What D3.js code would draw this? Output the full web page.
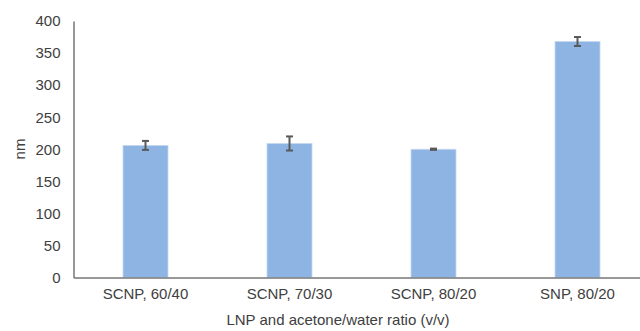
<!DOCTYPE html>
<html>
<head>
<meta charset="utf-8">
<script src="https://cdn.jsdelivr.net/npm/d3@7"></script>
<style>
  html, body { margin: 0; padding: 0; background: #fff; }
  svg { display: block; font-family: "Liberation Sans", Arial, sans-serif; }
</style>
</head>
<body>
<svg id="chart" width="640" height="331"></svg>
<script>
// Particle size by formulation
const categories = ["SCNP, 60/40", "SCNP, 70/30", "SCNP, 80/20", "SNP, 80/20"];
const sizes = [206, 209, 200, 368];
const errors = [7, 11, 1, 7];
const yTicks = [0, 50, 100, 150, 200, 250, 300, 350, 400];

const svg = d3.select("#chart");
const plotLeft = 73.5, plotRight = 649.5, plotTop = 21, plotBottom = 277.5;
const fontSize = 15;
const textColor = "#404040";

const x = d3.scaleBand()
  .domain(categories)
  .range([plotLeft, plotRight])
  .paddingInner(0.6875)
  .paddingOuter(0.34375);

const y = d3.scaleLinear().domain([0, 400]).range([plotBottom, plotTop]);

// bars
svg.append("g").selectAll("rect")
  .data(categories)
  .enter().append("rect")
  .attr("x", d => x(d))
  .attr("width", x.bandwidth())
  .attr("y", (d, i) => y(sizes[i]))
  .attr("height", (d, i) => y(0) - y(sizes[i]))
  .attr("fill", "#8eb4e3")
  .attr("stroke", "#c6d9f1")
  .attr("stroke-width", 0.8);

// error bars
const eb = svg.append("g").attr("stroke", "#595959").attr("stroke-width", 2);
categories.forEach((c, i) => {
  const cx = x(c) + x.bandwidth() / 2;
  const y1 = y(sizes[i] + errors[i]), y2 = y(sizes[i] - errors[i]);
  eb.append("line").attr("x1", cx).attr("x2", cx).attr("y1", y1).attr("y2", y2);
  eb.append("line").attr("x1", cx - 3.5).attr("x2", cx + 3.5).attr("y1", y1).attr("y2", y1);
  eb.append("line").attr("x1", cx - 3.5).attr("x2", cx + 3.5).attr("y1", y2).attr("y2", y2);
});

// y axis
const yAxis = svg.append("g")
  .attr("transform", `translate(${plotLeft},0)`)
  .call(d3.axisLeft(y).tickValues(yTicks).tickSize(0).tickPadding(13));
yAxis.select(".domain").attr("stroke", "#767676").attr("stroke-width", 1.5);
yAxis.selectAll("text").attr("font-size", fontSize).attr("fill", textColor)
  .attr("font-family", "Liberation Sans, Arial, sans-serif");

// x axis
const xAxis = svg.append("g")
  .attr("transform", `translate(0,${plotBottom})`)
  .call(d3.axisBottom(x).tickSize(0).tickPadding(11));
xAxis.select(".domain").attr("stroke", "#767676").attr("stroke-width", 1.5);
xAxis.selectAll("text").attr("font-size", fontSize).attr("fill", textColor)
  .attr("font-family", "Liberation Sans, Arial, sans-serif");

// axis titles
svg.append("text")
  .attr("transform", "translate(25,149) rotate(-90)")
  .attr("text-anchor", "middle")
  .attr("font-size", fontSize).attr("fill", textColor)
  .text("nm");

svg.append("text")
  .attr("x", 338).attr("y", 325)
  .attr("text-anchor", "middle")
  .attr("font-size", fontSize).attr("fill", textColor)
  .text("LNP and acetone/water ratio (v/v)");
</script>
</body>
</html>
